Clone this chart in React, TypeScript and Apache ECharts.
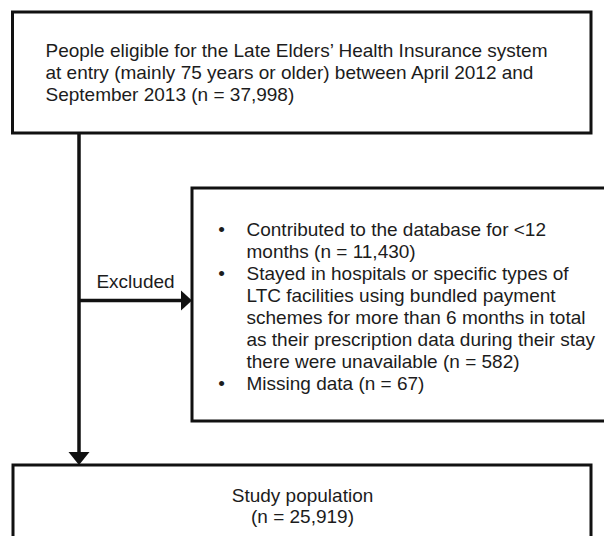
import React, { useEffect, useRef } from "react";
import * as echarts from "echarts";

const totalN = 37998;
const finalN = 25919;
const topLines = [
  "People eligible for the Late Elders\u2019 Health Insurance system",
  "at entry (mainly 75 years or older) between April 2012 and",
  "September 2013 (n = {n})",
];
const exclusionCounts = [11430, 582, 67];
const exclusionItems = [
  ["Contributed to the database for <12", "months (n = {n})"],
  [
    "Stayed in hospitals or specific types of",
    "LTC facilities using bundled payment",
    "schemes for more than 6 months in total",
    "as their prescription data during their stay",
    "there were unavailable (n = {n})",
  ],
  ["Missing data (n = {n})"],
];
const excludedLabel = "Excluded";
const bottomLines = ["Study population", "(n = {n})"];

const fmt = (n: number) => n.toLocaleString("en-US");

export default function App() {
  const ref = useRef<HTMLDivElement>(null);
  useEffect(() => {
    document.body.style.margin = "0";
    const chart = echarts.init(ref.current!, null, { renderer: "svg" });
    const font = '"Liberation Sans", Arial, sans-serif';
    const fs = 19;
    const tc = "#1c1c1c";
    const lc = "#111";
    const els: any[] = [];
    const txt = (x: number, y: number, s: string, align = "left") =>
      els.push({
        type: "text",
        x,
        y,
        style: { text: s, fill: tc, font: `${fs}px ${font}`, align, verticalAlign: "middle" },
      });
    // boxes
    els.push({ type: "rect", shape: { x: 12.5, y: 12, width: 578.5, height: 121 }, style: { fill: "#fff", stroke: lc, lineWidth: 3 } });
    els.push({ type: "rect", shape: { x: 192, y: 188, width: 420, height: 233 }, style: { fill: "#fff", stroke: lc, lineWidth: 3 } });
    els.push({ type: "rect", shape: { x: 13, y: 465, width: 578, height: 100 }, style: { fill: "#fff", stroke: lc, lineWidth: 3 } });
    // lines and arrows
    els.push({ type: "line", shape: { x1: 79, y1: 133, x2: 79, y2: 454 }, style: { stroke: lc, lineWidth: 3.5 } });
    els.push({ type: "polygon", shape: { points: [[68.5, 452], [89.5, 452], [79, 465]] }, style: { fill: lc } });
    els.push({ type: "line", shape: { x1: 79, y1: 300.5, x2: 184, y2: 300.5 }, style: { stroke: lc, lineWidth: 3.5 } });
    els.push({ type: "polygon", shape: { points: [[181, 290.5], [181, 310.5], [192, 300.5]] }, style: { fill: lc } });
    // texts
    topLines.forEach((s, i) => txt(45.5, 50.5 + i * 22, s.replace("{n}", fmt(totalN))));
    txt(135.5, 281.5, excludedLabel, "center");
    let line = 0;
    exclusionItems.forEach((item, k) => {
      item.forEach((s, j) => {
        const y = 229.5 + line * 22;
        if (j === 0) txt(221.5, y, "\u2022", "center");
        txt(246.5, y, s.replace("{n}", fmt(exclusionCounts[k])));
        line++;
      });
    });
    bottomLines.forEach((s, i) => txt(302.5, 495.5 + i * 21, s.replace("{n}", fmt(finalN)), "center"));
    chart.setOption({ animation: false, graphic: { elements: els } });
    return () => chart.dispose();
  }, []);
  return <div ref={ref} style={{ width: 604, height: 536, background: "#fff" }} />;
}
